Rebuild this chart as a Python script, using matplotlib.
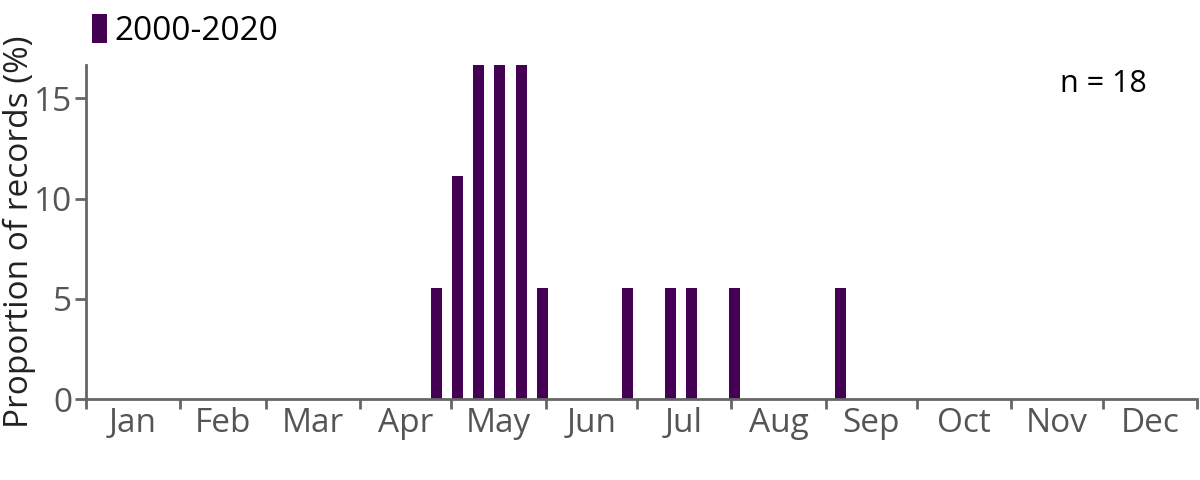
import matplotlib
matplotlib.use("Agg")
import matplotlib.pyplot as plt
from matplotlib.patches import Patch

# Data
week_index = [16, 17, 18, 19, 20, 21, 25, 27, 28, 30, 35]
proportion = [5.56, 11.11, 16.67, 16.67, 16.67, 5.56, 5.56, 5.56, 5.56, 5.56, 5.56]
month_labels = ["Jan", "Feb", "Mar", "Apr", "May", "Jun",
                "Jul", "Aug", "Sep", "Oct", "Nov", "Dec"]
month_start_day = [0, 31, 59, 90, 120, 151, 181, 212, 243, 273, 304, 334, 365]
series_label = "2000-2020"
n_records = 18

bar_color = "#440154"
axis_gray = "#666666"
tick_gray = "#555555"

plt.rcParams['font.family'] = ['Open Sans', 'DejaVu Sans']

fig = plt.figure(figsize=(12, 4.8), dpi=100)
ax = fig.add_axes([86/1200, 1-399/480, (1197-86)/1200, (399-65)/480])

x_days = [w * 7 + 3 for w in week_index]
ax.bar(x_days, proportion, width=3.6, color=bar_color, align='center')

ax.set_xlim(0, 365)
ax.set_ylim(0, max(proportion))

ax.set_xticks(month_start_day)
ax.set_xticklabels([])
mids = [(month_start_day[i] + month_start_day[i+1]) / 2 for i in range(12)]
ax.set_xticks(mids, minor=True)
ax.set_xticklabels(month_labels, minor=True)
ax.tick_params(axis='x', which='major', length=7, width=2, color=axis_gray, direction='out')
ax.tick_params(axis='x', which='minor', length=0, labelsize=24, labelcolor=tick_gray, pad=6)

ax.set_yticks([0, 5, 10, 15])
ax.tick_params(axis='y', length=8, width=2, color=axis_gray, labelsize=24,
               labelcolor=tick_gray, pad=2)

for s in ['top', 'right']:
    ax.spines[s].set_visible(False)
for s in ['left', 'bottom']:
    ax.spines[s].set_color(axis_gray)
    ax.spines[s].set_linewidth(2)

ax.set_ylabel("Proportion of records (%)", fontsize=24, color="#222222")
ax.yaxis.set_label_coords((36 - 86) / 1111, 0.5)

ax.text((1147 - 86) / 1111, (399 - 84) / 334, f"n = {n_records}", transform=ax.transAxes,
        ha='right', va='center', fontsize=22, color='black')

handle = Patch(facecolor=bar_color, edgecolor='none')
fig.legend([handle], [series_label], loc='upper left', bbox_to_anchor=(92/1200, 1-14/480),
           frameon=False, fontsize=24, handlelength=0.45, handleheight=0.95,
           handletextpad=0.22, borderpad=0, borderaxespad=0)

fig.savefig("out.png", dpi=100)
